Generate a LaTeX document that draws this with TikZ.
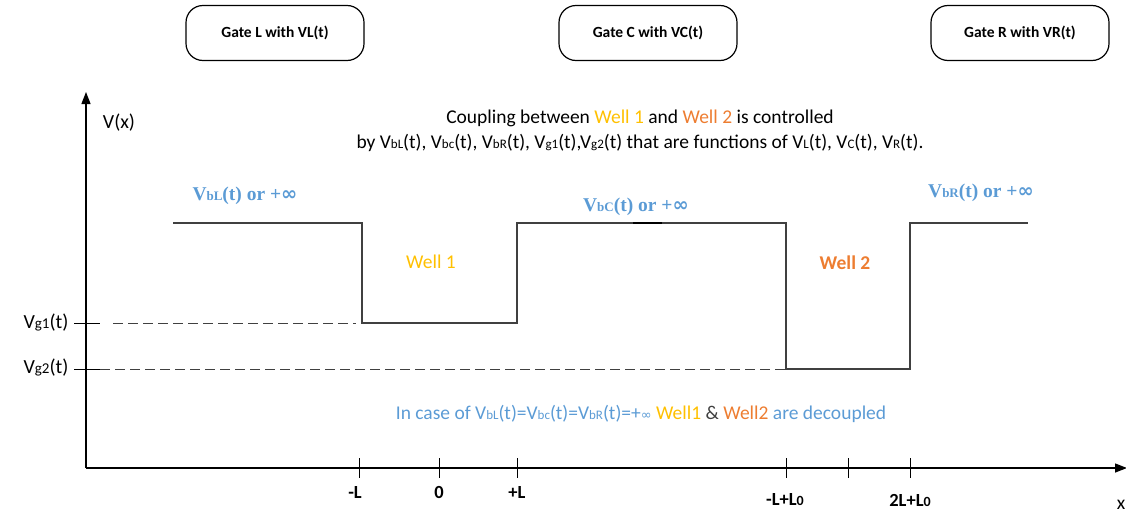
\documentclass[tikz,border=0pt]{standalone}
\usepackage{fontspec}
\setmainfont{Carlito}
\newfontfamily\serifbold{Liberation Serif}
\newfontfamily\symfont{DejaVu Sans}
\usetikzlibrary{arrows.meta}
\definecolor{lblue}{HTML}{5B9BD5}
\definecolor{wyellow}{HTML}{FFC000}
\definecolor{worange}{HTML}{ED7D31}
\definecolor{lgray}{HTML}{404040}
\newcommand{\sm}[1]{{\fontsize{13}{13}\selectfont #1}}
\newcommand{\smb}[1]{{\fontsize{14}{14}\selectfont #1}}
\newcommand{\smy}[1]{{\fontsize{15}{15}\selectfont #1}}
\begin{document}
\begin{tikzpicture}[x=1pt,y=-1pt,
  gatebox/.style={draw=black,line width=1.2pt,rounded corners=17pt,minimum width=178pt,minimum height=55pt,font=\fontsize{15.5}{17}\selectfont\bfseries},
  axisline/.style={draw=black,line width=1.3pt,-{Triangle[length=12pt,width=9pt]}},
  profile/.style={draw=lgray,line width=1.1pt},
  dashline/.style={draw=lgray,line width=1pt,dash pattern=on 10pt off 5pt},
  tickline/.style={draw=black,line width=1pt},
  lbl/.style={font=\fontsize{19.5}{21}\selectfont,inner sep=0pt},
  xlbl/.style={font=\fontsize{18.5}{20}\selectfont\bfseries,inner sep=0pt},
  barrier/.style={font=\fontsize{19.5}{21}\selectfont\serifbold\bfseries,text=lblue,inner sep=0pt}
]
\useasboundingbox (0,0) rectangle (1126,514);
% gates
\node[gatebox] (gL) at (275,33) {Gate L with VL(t)};
\node[gatebox] (gC) at (648,33) {Gate C with VC(t)};
\node[gatebox] (gR) at (1020,33) {Gate R with VR(t)};
% axes
\coordinate (O) at (86,468);
\coordinate (ytop) at (86,92);
\coordinate (xend) at (1127,468);
\draw[axisline] (O) -- (ytop);
\draw[axisline] (O) -- (xend);
\node[lbl,font=\fontsize{20}{22}\selectfont] (vx) at (119,123) {V(x)};
\node[lbl] (xl) at (1121,505) {x};
% y ticks
\coordinate (t1a) at (74,323); \coordinate (t1b) at (100,323);
\coordinate (t2a) at (74,369); \coordinate (t2b) at (100,369);
\draw[tickline] (t1a) -- (t1b);
\draw[tickline] (t2a) -- (t2b);
\node[lbl,font=\fontsize{20}{22}\selectfont] (vg1) at (46,323) {V\smy{g1}(t)};
\node[lbl,font=\fontsize{20}{22}\selectfont] (vg2) at (46,368) {V\smy{g2}(t)};
% dashed levels
\coordinate (d1a) at (113,323); \coordinate (d1b) at (356,323);
\coordinate (d2a) at (100,369); \coordinate (d2b) at (786,369);
\draw[dashline] (d1a) -- (d1b);
\draw[dashline] (d2a) -- (d2b);
% potential profile
\coordinate (p0) at (173,223);
\coordinate (p1) at (362,223);
\coordinate (p2) at (362,323);
\coordinate (p3) at (517,323);
\coordinate (p4) at (517,223);
\coordinate (p5) at (786,223);
\coordinate (p6) at (786,369);
\coordinate (p7) at (910,369);
\coordinate (p8) at (910,223);
\coordinate (p9) at (1028,223);
\draw[profile] (p0) -- (p1) -- (p2) -- (p3) -- (p4) -- (p5) -- (p6) -- (p7) -- (p8) -- (p9);
\coordinate (m1) at (633,223); \coordinate (m2) at (662,223);
\draw[draw=black,line width=1.6pt] (m1) -- (m2);
% x ticks
\foreach \n/\xx in {a/359,b/439,c/517,d/786,e/848,f/910}{
  \coordinate (tk\n u) at (\xx,458); \coordinate (tk\n d) at (\xx,478);
  \draw[tickline] (tk\n u) -- (tk\n d);
}
\node[xlbl] (lmL) at (355,492) {-L};
\node[xlbl] (l0) at (439,492) {0};
\node[xlbl] (lpL) at (517,492) {+L};
\node[xlbl] (lL0) at (785,500) {-L+L\smb{0}};
\node[xlbl] (l2L) at (910,500) {2L+L\smb{0}};
% barrier labels
\node[barrier] (bL) at (245,196) {V\fontsize{13}{13}\selectfont bL\fontsize{19.5}{21}\selectfont(t) or +\symfont ∞};
\node[barrier] (bC) at (636,207) {V\fontsize{13}{13}\selectfont bC\fontsize{19.5}{21}\selectfont(t) or +\symfont ∞};
\node[barrier] (bR) at (981,193) {V\fontsize{13}{13}\selectfont bR\fontsize{19.5}{21}\selectfont(t) or +\symfont ∞};
% wells
\node[lbl,text=wyellow] (w1) at (431,262) {Well 1};
\node[lbl,text=worange,font=\fontsize{19.5}{21}\selectfont\bfseries] (w2) at (845,263) {Well 2};
% coupling text
\node[lbl] (c1) at (640,118) {Coupling between \textcolor{wyellow}{Well 1} and \textcolor{worange}{Well 2} is controlled};
\node[lbl] (c2) at (640,143) {by V\sm{bL}(t), V\sm{bc}(t), V\sm{bR}(t), V\sm{g1}(t),V\sm{g2}(t) that are functions of V\sm{L}(t), V\sm{C}(t), V\sm{R}(t).};
% bottom text
\node[lbl,text=lblue] (dec) at (641,414) {In case of V\sm{bL}(t)=V\sm{bc}(t)=V\sm{bR}(t)=+{\symfont\fontsize{13}{13}\selectfont ∞} \textcolor{wyellow}{Well1} \textcolor{black!75}{\&} \textcolor{worange}{Well2} are decoupled};
\end{tikzpicture}
\end{document}
